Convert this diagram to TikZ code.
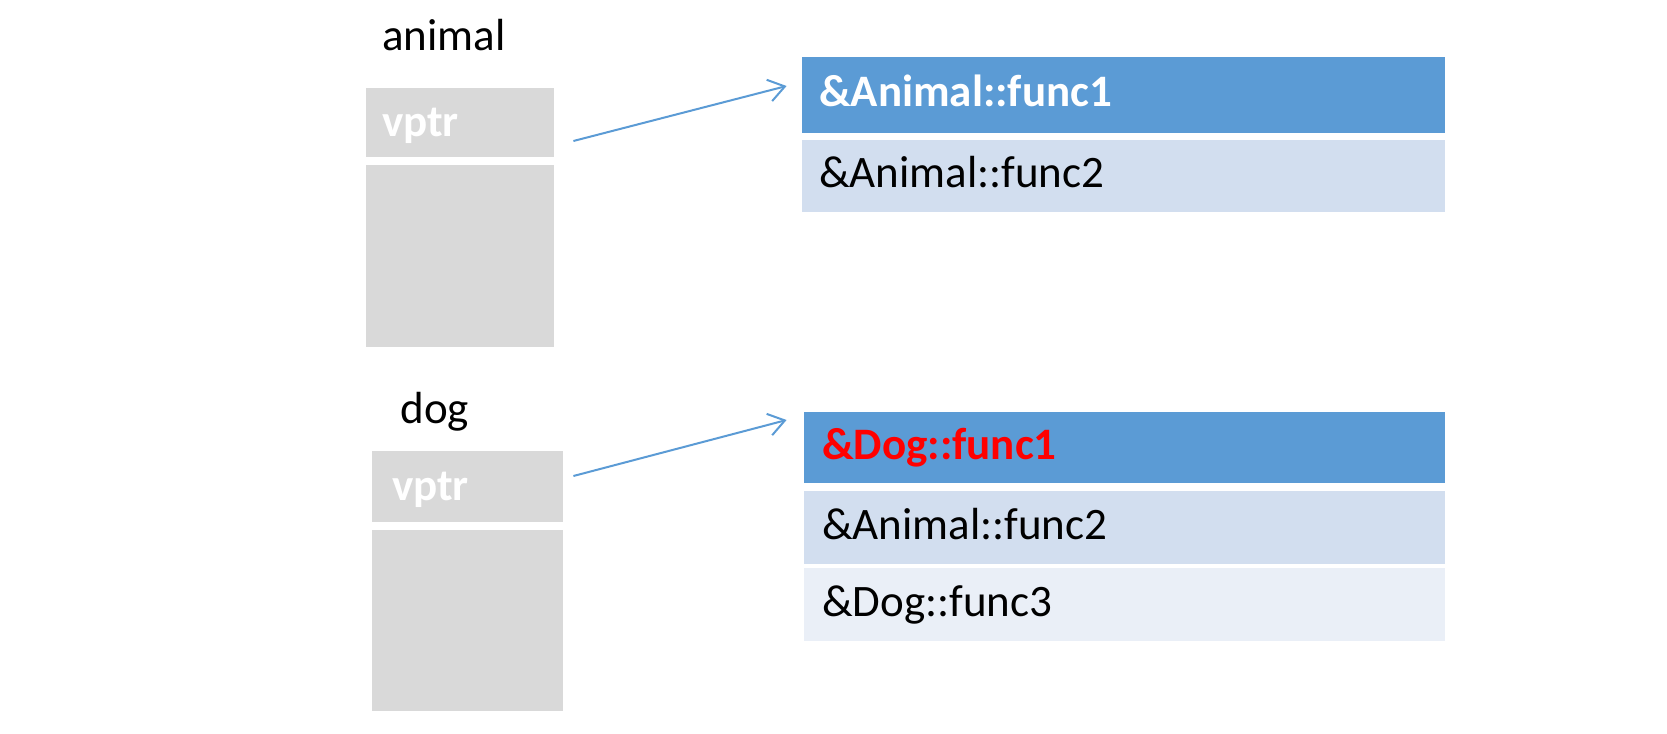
\documentclass[tikz,border=0pt]{standalone}
\usepackage{fontspec}
\setmainfont{Carlito}
\usetikzlibrary{arrows.meta}
\definecolor{slotgray}{HTML}{D9D9D9}
\definecolor{headblue}{HTML}{5B9BD5}
\definecolor{rowblue}{HTML}{D2DEEF}
\definecolor{rowpale}{HTML}{EAEFF7}
\begin{document}
\begin{tikzpicture}[x=0.5pt,y=-0.5pt,
  slot/.style={fill=slotgray,inner sep=0pt},
  vslot/.style={slot,text=white,font=\fontsize{22.5}{22.5}\selectfont\bfseries,
    align=left,text height=14pt,text depth=0pt},
  row/.style={inner ysep=0pt,minimum height=#1,align=left,
    text height=11.5pt,text depth=0pt,font=\fontsize{22.5}{22.5}\selectfont},
  arow/.style={row=#1,inner xsep=8.5pt,text width=304.5pt},
  drow/.style={row=#1,inner xsep=9pt,text width=302.5pt},
  ptr/.style={draw=headblue,line width=1pt,-{Straight Barb[length=8pt,width=11pt]}},
  objname/.style={anchor=base west,inner sep=0pt,font=\fontsize{22.5}{22.5}\selectfont}]
\useasboundingbox (0,0) rectangle (1667,734);

\node[objname] (aname) at (382,50) {animal};
\node[vslot,minimum width=94pt,minimum height=34.5pt,inner xsep=8pt,text width=78pt] (avptr) at (460,122.5) {vptr};
\node[slot,minimum width=94pt,minimum height=91pt] (abody) at (460,256) {};

\node[arow=38pt,fill=headblue,text=white,font=\fontsize{22.5}{22.5}\selectfont\bfseries] (afunc1) at (1123.5,95) {\&Animal::func1};
\node[arow=36pt,fill=rowblue] (afunc2) at (1123.5,176) {\&Animal::func2};

\node[objname] (dname) at (400,423) {dog};
\node[vslot,minimum width=95.5pt,minimum height=35.5pt,inner xsep=10pt,text width=75.5pt] (dvptr) at (467.5,486.5) {vptr};
\node[slot,minimum width=95.5pt,minimum height=90.5pt] (dbody) at (467.5,620.5) {};

\node[drow=35.5pt,fill=headblue,text=red,font=\fontsize{22.5}{22.5}\selectfont\bfseries] (dfunc1) at (1124.5,447.5) {\&Dog::func1};
\node[drow=36.5pt,fill=rowblue] (dfunc2) at (1124.5,527.5) {\&Animal::func2};
\node[drow=36.5pt,fill=rowpale] (dfunc3) at (1124.5,604.5) {\&Dog::func3};

\draw[ptr] ([xshift=9.5pt,yshift=-9.25pt]avptr.east) -- ([xshift=-7.5pt,yshift=4.5pt]afunc1.west);
\draw[ptr] ([xshift=5pt,yshift=5.25pt]dvptr.east) -- ([xshift=-8.5pt,yshift=13.75pt]dfunc1.west);
\end{tikzpicture}
\end{document}
